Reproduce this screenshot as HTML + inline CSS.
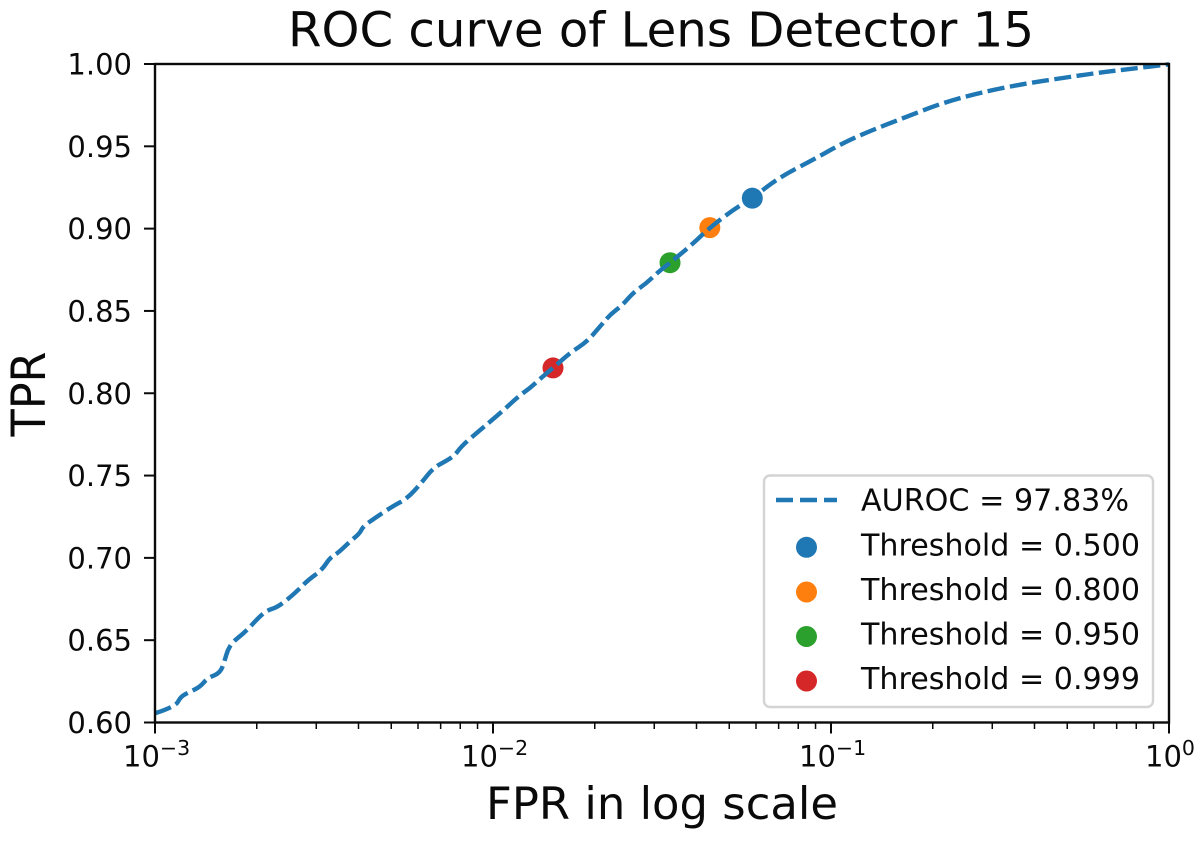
<!DOCTYPE html>
<html lang="en">
<head>
<meta charset="utf-8">
<title>ROC curve of Lens Detector 15</title>
<style>
html,body{margin:0;padding:0;background:#fff;width:1200px;height:842px;overflow:hidden}
svg{display:block}
text{font-family:"DejaVu Sans","Liberation Sans",sans-serif;fill:#0a0a0a}
</style>
</head>
<body>
<svg id="chart" xmlns="http://www.w3.org/2000/svg" width="1200" height="842" viewBox="0 0 1200 842">
  <rect x="155" y="64" width="1014" height="658.5" fill="#fff"/>
  <g id="curve-layer"></g>
  <g id="axes-layer"></g>
  <text x="661" y="46.5" font-size="48" text-anchor="middle" textLength="746" lengthAdjust="spacingAndGlyphs">ROC curve of Lens Detector 15</text>
  <text x="662" y="819" font-size="44.5" text-anchor="middle" textLength="352" lengthAdjust="spacingAndGlyphs">FPR in log scale</text>
  <text transform="translate(45,394) rotate(-90)" font-size="47" text-anchor="middle" textLength="85" lengthAdjust="spacingAndGlyphs">TPR</text>
  <g>
    <rect x="764" y="475.5" width="389" height="231.5" rx="6" ry="6" fill="#fff" fill-opacity="0.8" stroke="#d4d4d4" stroke-width="2.4"/>
    <line x1="776" y1="500" x2="837" y2="500" stroke="#1f77b4" stroke-width="4.4" stroke-dasharray="17 7"/>
    <text x="861" y="510.5" font-size="30" textLength="268" lengthAdjust="spacingAndGlyphs">AUROC = 97.83%</text>
    <circle cx="806.5" cy="547.3" r="10.5" fill="#1f77b4"/>
    <text x="861" y="555.5" font-size="30" textLength="279" lengthAdjust="spacingAndGlyphs">Threshold = 0.500</text>
    <circle cx="806.5" cy="592" r="10.5" fill="#ff7f0e"/>
    <text x="861" y="600" font-size="30" textLength="279" lengthAdjust="spacingAndGlyphs">Threshold = 0.800</text>
    <circle cx="806.5" cy="636.5" r="10.5" fill="#2ca02c"/>
    <text x="861" y="644.5" font-size="30" textLength="279" lengthAdjust="spacingAndGlyphs">Threshold = 0.950</text>
    <circle cx="806.5" cy="681" r="10.5" fill="#d62728"/>
    <text x="861" y="689" font-size="30" textLength="279" lengthAdjust="spacingAndGlyphs">Threshold = 0.999</text>
  </g>
</svg>
<script>
var fprValues = [0.00100,0.00115,0.00119,0.00127,0.00136,0.00143,0.00156,0.00161,0.00164,0.00170,0.00185,0.00202,0.00214,0.00230,0.00251,0.00269,0.00284,0.00312,0.00329,0.00348,0.00377,0.00404,0.00412,0.00448,0.00506,0.00557,0.00615,0.00665,0.00736,0.00772,0.00808,0.00895,0.00980,0.01085,0.01186,0.01287,0.01377,0.01505,0.0169,0.01897,0.0207,0.0222,0.0242,0.02595,0.0285,0.0306,0.0334,0.0382,0.0438,0.0513,0.0585,0.0706,0.0884,0.1085,0.133,0.168,0.214,0.276,0.370,0.485,0.612,0.766,1.0];
var tprValues = [0.6056,0.6096,0.6157,0.6187,0.6217,0.627,0.630,0.638,0.644,0.649,0.655,0.6635,0.668,0.670,0.676,0.6817,0.6866,0.6927,0.700,0.703,0.7098,0.715,0.719,0.7243,0.7315,0.736,0.7457,0.7546,0.7595,0.7625,0.768,0.7759,0.7827,0.7905,0.7979,0.8032,0.8087,0.8154,0.8245,0.8313,0.8404,0.8477,0.8537,0.861,0.867,0.8731,0.8793,0.8891,0.9006,0.9114,0.9185,0.9314,0.9417,0.9521,0.96,0.9681,0.9764,0.9826,0.9879,0.9915,0.9946,0.997,0.9998];
var thresholdNames = ["0-500","0-800","0-950","0-999"];
var thresholdFpr = [0.0585,0.0438,0.0334,0.01505];
var thresholdTpr = [0.9185,0.9006,0.8793,0.8154];
var thresholdColors = ["#1f77b4","#ff7f0e","#2ca02c","#d62728"];
var yTicks = [0.60,0.65,0.70,0.75,0.80,0.85,0.90,0.95,1.00];
var xMajorExponents = [-3,-2,-1,0];
var xMinorMultipliers = [2,3,4,5,6,7,8,9];

var NS = "http://www.w3.org/2000/svg";
var plotLeft = 155, plotRight = 1169, plotTop = 64, plotBottom = 722.5;
function xScale(v){ return plotLeft + (Math.log10(v) + 3) / 3 * (plotRight - plotLeft); }
function yScale(v){ return plotBottom - (v - 0.6) / 0.4 * (plotBottom - plotTop); }
function mk(tag, parent, attrs){
  var el = document.createElementNS(NS, tag);
  for (var k in attrs) el.setAttribute(k, attrs[k]);
  parent.appendChild(el);
  return el;
}
var curveLayer = document.getElementById("curve-layer");
var axesLayer = document.getElementById("axes-layer");

thresholdFpr.forEach(function(f, i){
  var c = mk("circle", curveLayer, {cx: xScale(f), cy: yScale(thresholdTpr[i]), r: 10.5, fill: thresholdColors[i]});
  
  
});

var px = fprValues.map(xScale);
var py = tprValues.map(yScale);
var d = "M" + px[0].toFixed(2) + " " + py[0].toFixed(2);
for (var i = 1; i < px.length - 1; i++) {
  var mx = (px[i] + px[i + 1]) / 2;
  var my = (py[i] + py[i + 1]) / 2;
  d += "Q" + px[i].toFixed(2) + " " + py[i].toFixed(2) + " " + mx.toFixed(2) + " " + my.toFixed(2);
}
d += "L" + px[px.length - 1].toFixed(2) + " " + py[py.length - 1].toFixed(2);
var roc = mk("path", curveLayer, {d: d, fill: "none", stroke: "#1f77b4", "stroke-width": 4.4, "stroke-dasharray": "17 5.5", "stroke-linejoin": "round"});



var frame = mk("rect", axesLayer, {x: plotLeft, y: plotTop, width: plotRight - plotLeft, height: plotBottom - plotTop, fill: "none", stroke: "#0a0a0a", "stroke-width": 2.4});



yTicks.forEach(function(t){
  var y = yScale(t);
  var tick = mk("line", axesLayer, {x1: plotLeft - 11, x2: plotLeft, y1: y, y2: y, stroke: "#0a0a0a", "stroke-width": 2});
  
  
  var lab = mk("text", axesLayer, {x: 132, y: y + 10.5, "font-size": 29, "text-anchor": "end"});
  lab.textContent = t.toFixed(2);
  
  
});

xMajorExponents.forEach(function(e){
  var x = xScale(Math.pow(10, e));
  var tick = mk("line", axesLayer, {x1: x, x2: x, y1: plotBottom, y2: plotBottom + 11, stroke: "#0a0a0a", "stroke-width": 2});
  
  
  var exp = String(e).replace("-", "\u2212");
  var lab = mk("text", axesLayer, {x: x - 32 + (e === 0 ? 8 : 0), y: 766.5, "font-size": 29});
  
  
  var base = mk("tspan", lab, {});
  base.textContent = "10";
  var sup = mk("tspan", lab, {dy: -11.5, "font-size": 20.5});
  sup.textContent = exp;
  if (e < 0) {
    xMinorMultipliers.forEach(function(m){
      var mx = xScale(m * Math.pow(10, e));
      var minor = mk("line", axesLayer, {x1: mx, x2: mx, y1: plotBottom, y2: plotBottom + 6.5, stroke: "#0a0a0a", "stroke-width": 1.5});
      
      
    });
  }
});
</script>
</body>
</html>
